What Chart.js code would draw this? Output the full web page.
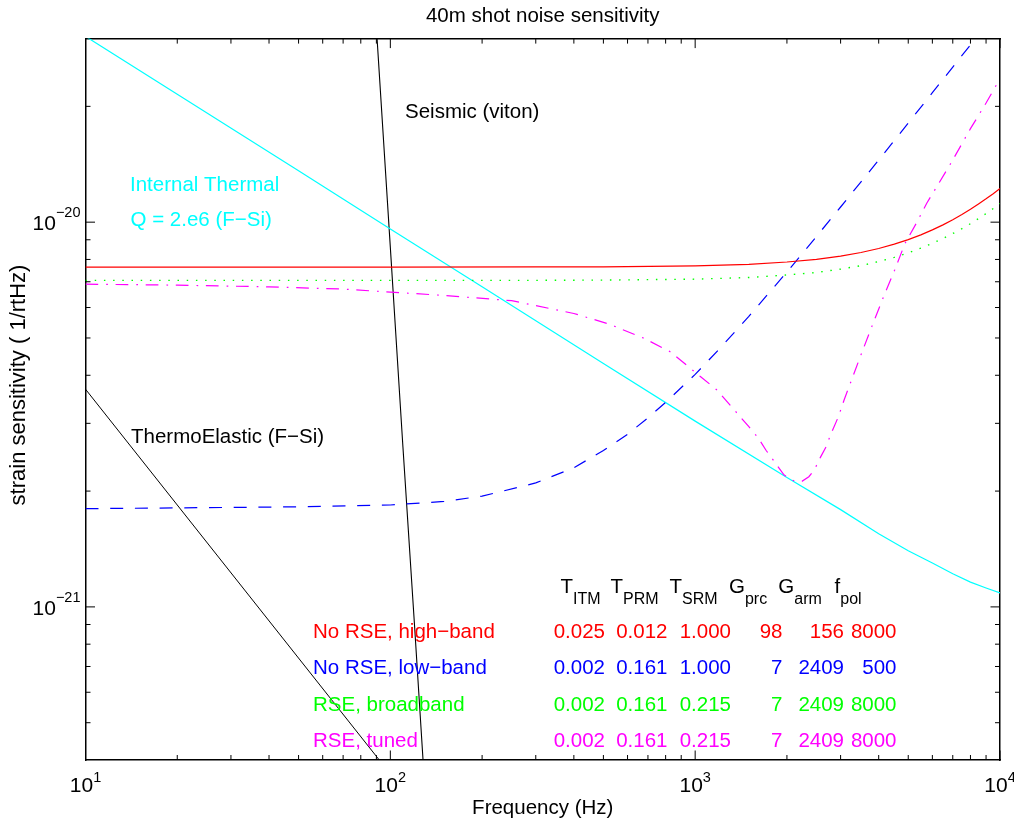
<!DOCTYPE html>
<html><head><meta charset="utf-8">
<script src="https://cdn.jsdelivr.net/npm/chart.js@4"></script>
<style>html,body{margin:0;padding:0;background:#fff;}canvas{display:block;}</style>
</head><body>
<canvas id="c" width="1014" height="821"></canvas>
<script>
// ---------------- data ----------------
const freqThermal = [10, 20, 50, 100, 200, 500, 1000, 2000, 3000, 4000, 5000, 6000, 7000, 8000, 9000, 10000];
const internalThermal = [3.04e-20, 2.15e-20, 1.36e-20, 9.6e-21, 6.79e-21, 4.29e-21, 3.04e-21, 2.17e-21, 1.79e-21, 1.55e-21, 1.40e-21, 1.30e-21, 1.22e-21, 1.16e-21, 1.12e-21, 1.087e-21];

const freqSeismic = [90, 100, 110, 120, 130];
const seismic = [3.2e-20, 8.6e-21, 2.6e-21, 9.0e-22, 3.3e-22];

const freqThermoElastic = [10, 100];
const thermoElastic = [3.68e-21, 3.68e-22];

const freqShot = [10, 100, 300, 500, 1000, 1500, 2000, 2500, 3000, 3500, 4000, 4500, 5000, 5500, 6000, 6500, 7000, 7500, 8000, 8500, 9000, 9500, 10000];
const highBand = [7.64e-21, 7.64e-21, 7.65e-21, 7.65e-21, 7.70e-21, 7.77e-21, 7.88e-21, 8.00e-21, 8.16e-21, 8.34e-21, 8.54e-21, 8.77e-21, 9.01e-21, 9.27e-21, 9.55e-21, 9.84e-21, 1.015e-20, 1.047e-20, 1.080e-20, 1.115e-20, 1.150e-20, 1.186e-20, 1.223e-20];
const broadband = [7.06e-21, 7.06e-21, 7.06e-21, 7.07e-21, 7.11e-21, 7.18e-21, 7.29e-21, 7.40e-21, 7.55e-21, 7.71e-21, 7.90e-21, 8.10e-21, 8.32e-21, 8.56e-21, 8.81e-21, 9.07e-21, 9.34e-21, 9.62e-21, 9.91e-21, 1.022e-20, 1.053e-20, 1.085e-20, 1.118e-20];

const freqLow = [10, 50, 100, 150, 200, 300, 400, 500, 600, 700, 800, 1000, 1200, 1500, 2000, 2500, 3000, 4000, 5000, 6000, 7000, 8000, 9000, 10000];
const lowBand = [1.80e-21, 1.82e-21, 1.84e-21, 1.88e-21, 1.94e-21, 2.10e-21, 2.30e-21, 2.55e-21, 2.81e-21, 3.10e-21, 3.40e-21, 4.02e-21, 4.68e-21, 5.69e-21, 7.42e-21, 9.18e-21, 1.095e-20, 1.45e-20, 1.81e-20, 2.17e-20, 2.53e-20, 2.89e-20, 3.24e-20, 3.61e-20];

const freqTuned = [10, 20, 40, 70, 100, 150, 250, 400, 520, 680, 830, 1040, 1180, 1330, 1500, 1610, 1710, 1830, 1950, 2050, 2150, 2240, 2360, 2460, 2570, 2690, 2770, 2950, 3080, 3480, 3800, 4130, 4510, 4880, 5340, 5750, 6330, 6780, 7030, 8000, 9000, 10000];
const tuned = [6.90e-21, 6.86e-21, 6.79e-21, 6.70e-21, 6.58e-21, 6.45e-21, 6.25e-21, 5.79e-21, 5.44e-21, 4.99e-21, 4.60e-21, 3.97e-21, 3.66e-21, 3.28e-21, 2.94e-21, 2.75e-21, 2.55e-21, 2.37e-21, 2.21e-21, 2.14e-21, 2.12e-21, 2.12e-21, 2.18e-21, 2.27e-21, 2.44e-21, 2.61e-21, 2.78e-21, 3.12e-21, 3.45e-21, 4.47e-21, 5.36e-21, 6.34e-21, 7.50e-21, 8.81e-21, 1.00e-20, 1.12e-20, 1.27e-20, 1.39e-20, 1.46e-20, 1.75e-20, 2.04e-20, 2.36e-20];

// axis ticks and labels
const xMajorTicks = [10, 100, 1000, 10000];
const xTickExponents = ['1', '2', '3', '4'];
const yMajorTicks = [1e-21, 1e-20];
const yTickExponents = ['\u221221', '\u221220'];
const xMinorTicks = [20,30,40,50,60,70,80,90,200,300,400,500,600,700,800,900,2000,3000,4000,5000,6000,7000,8000,9000];
const yMinorTicks = [5e-22,6e-22,7e-22,8e-22,9e-22,2e-21,3e-21,4e-21,5e-21,6e-21,7e-21,8e-21,9e-21,2e-20];

// table
const rowLabels = ['No RSE, high\u2212band', 'No RSE, low\u2212band', 'RSE, broadband', 'RSE, tuned'];
const tableHeaders = [['T','ITM'], ['T','PRM'], ['T','SRM'], ['G','prc'], ['G','arm'], ['f','pol']];
const tableValues = [
  ['0.025', '0.012', '1.000', '98', '156', '8000'],
  ['0.002', '0.161', '1.000', '7', '2409', '500'],
  ['0.002', '0.161', '0.215', '7', '2409', '8000'],
  ['0.002', '0.161', '0.215', '7', '2409', '8000']
];

// ---------------- styles / layout ----------------
const FONT = '"Liberation Sans", Arial, Helvetica, sans-serif';
const TXT = 20.5;
const COLORS = { red: '#ff0000', blue: '#0000ff', green: '#00ff00', magenta: '#ff00ff', cyan: '#00ffff', black: '#000000' };
const rowColors = [COLORS.red, COLORS.blue, COLORS.green, COLORS.magenta];
const headerX = [560.5, 610.6, 669.6, 729, 778.3, 834.6];
const colRightX = [605, 667.5, 731, 782.5, 844, 896.5];
const rowBaseY = [638.3, 674.3, 710.5, 746.5];

function pts(xs, ys) { return xs.map((x, i) => ({ x: x, y: ys[i] })); }
function ds(label, xs, ys, color, dash, width) {
  return { label: label, data: pts(xs, ys), borderColor: color, borderWidth: width || 1.1,
           borderDash: dash || [], pointRadius: 0, fill: false, tension: 0, borderCapStyle: 'butt' };
}

function txt(ctx, s, x, y, size, color, align, baseline) {
  ctx.font = size + 'px ' + FONT;
  ctx.fillStyle = color;
  ctx.textAlign = align || 'left';
  ctx.textBaseline = baseline || 'alphabetic';
  ctx.fillText(s, x, y);
}

const overlay = {
  id: 'overlay',
  afterDraw(chart) {
    const ctx = chart.ctx, xs = chart.scales.x, ys = chart.scales.y, a = chart.chartArea;
    ctx.save();
    // inward tick marks on all four sides
    ctx.strokeStyle = '#000'; ctx.lineWidth = 1;
    ctx.beginPath();
    const xt = (v, len) => { const p = xs.getPixelForValue(v);
      ctx.moveTo(p, a.bottom); ctx.lineTo(p, a.bottom - len); ctx.moveTo(p, a.top); ctx.lineTo(p, a.top + len); };
    const yt = (v, len) => { const p = ys.getPixelForValue(v);
      ctx.moveTo(a.left, p); ctx.lineTo(a.left + len, p); ctx.moveTo(a.right, p); ctx.lineTo(a.right - len, p); };
    xMinorTicks.forEach(v => xt(v, 5));
    xMajorTicks.forEach(v => xt(v, 9.5));
    yMinorTicks.forEach(v => yt(v, 5));
    yMajorTicks.forEach(v => yt(v, 9.5));
    ctx.stroke();

    // x tick labels 10^n
    xMajorTicks.forEach((v, i) => {
      const p = xs.getPixelForValue(v);
      ctx.font = '21px ' + FONT; const w1 = ctx.measureText('10').width;
      ctx.font = '14.5px ' + FONT; const w2 = ctx.measureText(xTickExponents[i]).width;
      const x0 = p - (w1 + w2) / 2;
      txt(ctx, '10', x0, a.bottom + 31.5, 21, '#000');
      txt(ctx, xTickExponents[i], x0 + w1, a.bottom + 21.5, 14.5, '#000');
    });
    // y tick labels 10^n
    yMajorTicks.forEach((v, i) => {
      const p = ys.getPixelForValue(v);
      ctx.font = '14.5px ' + FONT; const w2 = ctx.measureText(yTickExponents[i]).width;
      const xr = 80.5;
      txt(ctx, yTickExponents[i], xr, p - 4.7, 14.5, '#000', 'right');
      txt(ctx, '10', xr - w2, p + 8, 21, '#000', 'right');
    });

    // y axis title
    ctx.save();
    ctx.translate(19, 385);
    ctx.rotate(-Math.PI / 2);
    txt(ctx, 'strain sensitivity ( 1/rtHz)', 0, 0, 22, '#000', 'center', 'middle');
    ctx.restore();

    // curve annotations
    txt(ctx, 'Seismic (viton)', 405, 118, TXT, COLORS.black);
    txt(ctx, 'Internal Thermal', 130, 190.5, TXT, COLORS.cyan);
    txt(ctx, 'Q = 2.e6 (F\u2212Si)', 130.5, 226, TXT, COLORS.cyan);
    txt(ctx, 'ThermoElastic (F\u2212Si)', 131, 442.5, TXT, COLORS.black);

    // table header
    tableHeaders.forEach((h, i) => {
      txt(ctx, h[0], headerX[i], 593.3, TXT, '#000');
      ctx.font = TXT + 'px ' + FONT; const w = ctx.measureText(h[0]).width;
      txt(ctx, h[1], headerX[i] + w, 604.3, 16, '#000');
    });
    // table rows
    rowLabels.forEach((lab, r) => {
      txt(ctx, lab, 313, rowBaseY[r], TXT, rowColors[r]);
      tableValues[r].forEach((val, c) => txt(ctx, val, colRightX[c], rowBaseY[r], TXT, rowColors[r], 'right'));
    });
    ctx.restore();
  }
};

const logAxis = (pos, min, max) => ({
  type: 'logarithmic', position: pos, min: min, max: max,
  ticks: { display: false },
  grid: { display: false, drawTicks: false },
  border: { display: true, color: '#000', width: 1.5 }
});

const xAxis = logAxis('bottom', 10, 10000);
xAxis.title = { display: true, text: 'Frequency (Hz)', color: '#000',
  font: { family: FONT, size: 20.5, lineHeight: 1.2 }, padding: { top: 36.4, bottom: 0 } };

new Chart(document.getElementById('c'), {
  type: 'line',
  data: {
    datasets: [
      ds('No RSE, high-band', freqShot, highBand, COLORS.red, [], 1.2),
      ds('No RSE, low-band', freqLow, lowBand, COLORS.blue, [13, 11.7], 1.2),
      ds('RSE, broadband', freqShot, broadband, COLORS.green, [1.5, 7.7], 1.4),
      ds('RSE, tuned', freqTuned, tuned, COLORS.magenta, [12.7, 8, 1.7, 7.7], 1.2),
      ds('Internal Thermal', freqThermal, internalThermal, COLORS.cyan, [], 1.2),
      ds('Seismic (viton)', freqSeismic, seismic, COLORS.black, [], 1.1),
      ds('ThermoElastic (F-Si)', freqThermoElastic, thermoElastic, COLORS.black, [], 1.0)
    ]
  },
  options: {
    responsive: false,
    animation: false,
    devicePixelRatio: 1,
    parsing: true,
    layout: { padding: { left: 85.5, right: 14, top: 0, bottom: 0 } },
    plugins: {
      legend: { display: false },
      tooltip: { enabled: false },
      title: { display: true, text: '40m shot noise sensitivity', color: '#000',
        font: { family: FONT, size: 20.5, weight: 'normal', lineHeight: 1.2 }, padding: { top: 4, bottom: 10 } }
    },
    scales: {
      x: xAxis,
      y: logAxis('left', 4e-22, 3e-20),
      x2: logAxis('top', 10, 10000),
      y2: logAxis('right', 4e-22, 3e-20)
    }
  },
  plugins: [overlay]
});
</script>
</body></html>
